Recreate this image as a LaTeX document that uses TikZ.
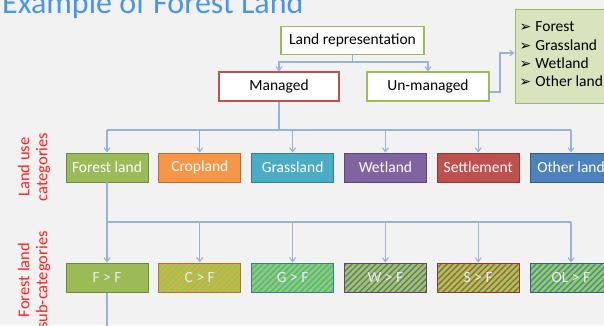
\documentclass[tikz,border=0pt]{standalone}
\usepackage{fontspec}
\setmainfont{Carlito}
\newfontfamily\symfont{DejaVu Sans}
\usetikzlibrary{arrows.meta,patterns.meta}
\definecolor{bg}{HTML}{F2F2F2}
\definecolor{titleblue}{HTML}{4A94EC}
\definecolor{conn}{HTML}{95B3D7}
\definecolor{ogreen}{HTML}{9BBB59}
\definecolor{ogreenD}{HTML}{71893F}
\definecolor{ored}{HTML}{C0504D}
\definecolor{oredD}{HTML}{8C3836}
\definecolor{oorange}{HTML}{F79646}
\definecolor{oorangeD}{HTML}{B66D31}
\definecolor{oteal}{HTML}{4BACC6}
\definecolor{otealD}{HTML}{357D91}
\definecolor{opurple}{HTML}{8064A2}
\definecolor{opurpleD}{HTML}{5C4776}
\definecolor{oblue}{HTML}{4F81BD}
\definecolor{oblueD}{HTML}{385D8A}
\definecolor{lgreen}{HTML}{D7E4BD}
\definecolor{hgreen}{HTML}{92D050}
\definecolor{lblred}{HTML}{FF2020}
\begin{document}
\begin{tikzpicture}[x=1pt,y=-1pt,
  font=\fontsize{15.5}{18}\selectfont,
  conn/.style={draw=conn,line width=1.1pt},
  arr/.style={conn,-{Straight Barb[length=4pt,width=6pt]}},
  wbox/.style={draw,fill=white,line width=1.1pt,minimum width=#1,minimum height=28pt,inner sep=0pt},
  cat/.style={line width=0.9pt,minimum width=82pt,minimum height=29pt,inner sep=0pt,text=white},
  sub/.style={line width=1pt,minimum width=82pt,minimum height=29pt,inner sep=0pt,text=white!92!black,
     preaction={fill=hgreen},pattern={Lines[angle=45,distance=4.2pt,line width=1.4pt]}},
  side/.style={rotate=90,text=lblred,align=center,font=\fontsize{16.5}{18}\selectfont}
]
\useasboundingbox (0,0) rectangle (604,325);
\fill[bg] (0,0) rectangle (604,325);

\node[anchor=base west,text=titleblue,font=\fontsize{32}{36}\selectfont,inner sep=0pt] (title) at (2,13) {Example of Forest Land};

\node[wbox=143pt,draw=ogreen] (lr) at (352.5,40.5) {Land representation};
\node[wbox=120pt,draw=ored,minimum height=29pt] (man) at (279,86.5) {Managed};
\node[wbox=122pt,draw=ogreen,minimum height=29pt] (unm) at (428,86.5) {Un-managed};

\node[draw=ogreen,fill=lgreen,line width=1pt,minimum width=100pt,minimum height=94pt,anchor=north west,inner sep=0pt] (list) at (514.5,8.5) {};
\foreach \t/\yy in {Forest/27,Grassland/45,Wetland/63,Other land/81.5}{
  \node[anchor=west,inner sep=0pt] at (519.5,\yy) {{\symfont\fontsize{14}{16}\selectfont ➢}\hspace{4pt}\t};
}

\coordinate (j1) at (352.5,62);
\draw[conn] (lr.south) -- (j1);
\draw[arr] (j1) -| (man.north);
\draw[arr] (j1) -| (unm.north);
\coordinate (u1) at (500,92);
\draw[arr] (unm.east |- u1) -- (u1) |- (list.west |- 0,53);

% categories
\node[cat,fill=ogreen,draw=ogreenD] (c1) at (107,167.5) {Forest land};
\node[cat,fill=oorange,draw=oorangeD] (c2) at (199.8,167.5) {Cropland};
\node[cat,fill=oteal,draw=otealD] (c3) at (292.6,167.5) {Grassland};
\node[cat,fill=opurple,draw=opurpleD] (c4) at (385.4,167.5) {Wetland};
\node[cat,fill=ored,draw=oredD] (c5) at (478.2,167.5) {Settlement};
\node[cat,fill=oblue,draw=oblueD] (c6) at (571,167.5) {Other land};

\coordinate (j2) at (279,130);
\draw[conn] (man.south) -- (j2);
\draw[conn] (c1.north |- j2) -- (c6.north |- j2);
\foreach \i in {1,...,6}{\draw[arr] (c\i.north |- j2) -- (c\i.north);}

% sub-categories
\node[line width=1pt,minimum width=82pt,minimum height=29pt,inner sep=0pt,text=white!92!black,fill=ogreen,draw=ogreenD] (s1) at (107,277.5) {F > F};
\node[sub,draw=oorangeD,pattern color=oorange] (s2) at (199.8,277.5) {C > F};
\node[sub,draw=otealD,pattern color=oteal] (s3) at (292.6,277.5) {G > F};
\node[sub,draw=opurpleD,pattern color=opurple] (s4) at (385.4,277.5) {W > F};
\node[sub,draw=oredD,pattern color=ored] (s5) at (478.2,277.5) {S > F};
\node[sub,draw=oblueD,pattern color=oblue] (s6) at (571,277.5) {OL > F};

\coordinate (j3) at (107,222);
\draw[conn] (c1.south) -- (j3);
\draw[conn] (j3) -- (s6.north |- j3);
\foreach \i in {1,...,6}{\draw[arr] (s\i.north |- j3) -- (s\i.north);}
\coordinate (bot) at (107,330);
\draw[conn] (s1.south) -- (bot);

\node[side] (lab1) at (34,167) {Land use\\categories};
\node[side] (lab2) at (34,280) {Forest land\\sub-categories};
\end{tikzpicture}
\end{document}
